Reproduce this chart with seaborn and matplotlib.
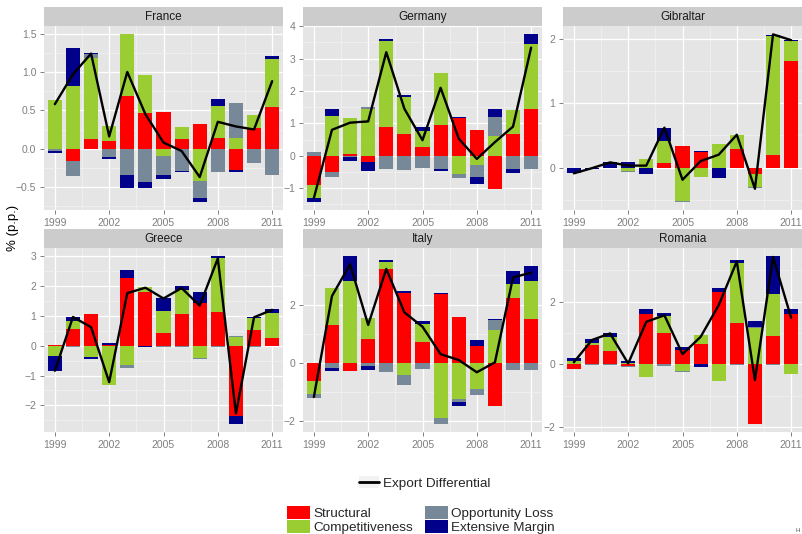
import numpy as np
import pandas as pd
import matplotlib
matplotlib.use("Agg")
import matplotlib.pyplot as plt
import seaborn as sns
from matplotlib.lines import Line2D
from matplotlib.patches import Patch
from matplotlib.ticker import MultipleLocator

# ---------------------------------------------------------------------------
# Data: decomposition of the export differential (percentage points)
# ---------------------------------------------------------------------------
years = list(range(1999, 2012))
countries = ["France", "Germany", "Gibraltar", "Greece", "Italy", "Romania"]
components = ["Structural", "Competitiveness", "Opportunity Loss", "Extensive Margin"]

france_structural = [-0.01, -0.16, 0.12, 0.10, 0.69, 0.47, 0.48, 0.12, 0.32, 0.14, -0.28, 0.27, 0.54]
france_competitiveness = [0.63, 0.82, 1.06, 0.19, 0.80, 0.49, -0.10, 0.16, -0.42, 0.41, 0.14, 0.17, 0.63]
france_opportunity = [-0.025, -0.19, 0.05, -0.11, -0.34, -0.44, -0.24, -0.29, -0.22, -0.30, 0.46, -0.18, -0.34]
france_extensive = [-0.015, 0.49, 0.02, -0.02, -0.17, -0.07, -0.06, -0.02, -0.05, 0.10, -0.03, -0.01, 0.04]
france_export = [0.58, 0.97, 1.24, 0.16, 1.00, 0.45, 0.08, -0.03, -0.37, 0.35, 0.29, 0.25, 0.88]

germany_structural = [-0.92, -0.50, 0.05, -0.20, 0.90, 0.66, 0.27, 0.94, 1.15, 0.79, -1.02, 0.66, 1.45]
germany_competitiveness = [-0.38, 1.24, 1.10, 1.43, 2.66, 1.14, 0.49, 1.61, -0.56, -0.28, 0.60, 0.76, 1.99]
germany_opportunity = [0.10, -0.15, -0.03, 0.09, -0.41, -0.44, -0.38, -0.40, -0.12, -0.37, 0.59, -0.41, -0.40]
germany_extensive = [-0.12, 0.21, -0.13, -0.27, 0.05, 0.08, 0.12, -0.06, 0.06, -0.24, 0.24, -0.11, 0.31]
germany_export = [-1.31, 0.80, 1.02, 1.06, 3.20, 1.45, 0.48, 2.10, 0.53, -0.10, 0.42, 0.90, 3.34]

gibraltar_structural = [0.00, 0.00, 0.00, 0.00, 0.00, 0.07, 0.33, 0.24, 0.00, 0.29, -0.10, 0.20, 1.65]
gibraltar_competitiveness = [0.00, 0.00, 0.00, -0.06, 0.13, 0.35, -0.52, -0.15, 0.37, 0.21, -0.21, 1.85, 0.31]
gibraltar_opportunity = [0.00, 0.00, 0.00, -0.01, 0.00, -0.01, -0.01, 0.00, 0.00, 0.01, -0.005, -0.01, -0.01]
gibraltar_extensive = [-0.09, -0.02, 0.08, 0.09, -0.10, 0.20, 0.01, 0.01, -0.17, -0.01, -0.01, 0.01, 0.02]
gibraltar_export = [-0.09, -0.01, 0.08, 0.03, 0.03, 0.62, -0.19, 0.10, 0.20, 0.51, -0.33, 2.07, 1.98]

greece_structural = [0.02, 0.57, 1.07, 0.03, 2.28, 1.80, 0.44, 1.07, 1.42, 1.13, -2.35, 0.54, 0.27]
greece_competitiveness = [-0.33, 0.27, -0.39, -1.30, -0.66, 0.18, 0.72, 0.80, -0.42, 1.79, 0.28, 0.39, 0.81]
greece_opportunity = [0.00, -0.03, 0.00, -0.02, -0.09, -0.02, -0.03, -0.03, -0.03, -0.06, 0.06, -0.03, 0.02]
greece_extensive = [-0.53, 0.13, -0.06, 0.07, 0.24, -0.03, 0.44, 0.12, 0.38, 0.07, -0.26, 0.04, 0.13]
greece_export = [-0.84, 0.96, 0.62, -1.22, 1.76, 1.94, 1.58, 1.93, 1.34, 2.92, -2.27, 0.95, 1.20]

italy_structural = [-0.63, 1.29, -0.27, 0.82, 3.23, 2.38, 0.72, 2.35, 1.56, 0.58, -1.48, 2.24, 1.49]
italy_competitiveness = [-0.45, 1.26, 2.79, 0.72, 0.22, -0.41, 0.61, -1.89, -1.22, -0.88, 1.13, 0.47, 1.32]
italy_opportunity = [-0.13, -0.19, 0.00, -0.10, -0.30, -0.33, -0.20, -0.19, -0.13, -0.22, 0.34, -0.23, -0.23]
italy_extensive = [0.00, -0.07, 0.86, -0.14, 0.07, 0.07, 0.10, 0.03, -0.13, 0.21, 0.03, 0.44, 0.51]
italy_export = [-1.17, 2.29, 3.38, 1.30, 3.22, 1.73, 1.24, 0.30, 0.10, -0.32, 0.02, 2.93, 3.09]

romania_structural = [-0.16, 0.63, 0.42, -0.06, 1.60, 1.01, 0.47, 0.66, 2.30, 1.33, -1.89, 0.92, 1.61]
romania_competitiveness = [0.12, 0.06, 0.47, 0.05, -0.39, 0.54, -0.20, 0.29, -0.52, 1.90, 1.15, 1.32, -0.29]
romania_opportunity = [0.00, -0.02, -0.02, -0.02, -0.02, -0.06, -0.04, 0.00, -0.02, -0.02, 0.04, -0.02, -0.02]
romania_extensive = [0.10, 0.13, 0.12, 0.07, 0.17, 0.09, 0.10, -0.08, 0.13, 0.09, 0.21, 1.21, 0.16]
romania_export = [0.07, 0.78, 0.99, 0.03, 1.36, 1.57, 0.33, 0.88, 1.89, 3.29, -0.50, 3.43, 1.49]

component_series = {
    "France": [france_structural, france_competitiveness, france_opportunity, france_extensive],
    "Germany": [germany_structural, germany_competitiveness, germany_opportunity, germany_extensive],
    "Gibraltar": [gibraltar_structural, gibraltar_competitiveness, gibraltar_opportunity, gibraltar_extensive],
    "Greece": [greece_structural, greece_competitiveness, greece_opportunity, greece_extensive],
    "Italy": [italy_structural, italy_competitiveness, italy_opportunity, italy_extensive],
    "Romania": [romania_structural, romania_competitiveness, romania_opportunity, romania_extensive],
}
export_series = {
    "France": france_export, "Germany": germany_export, "Gibraltar": gibraltar_export,
    "Greece": greece_export, "Italy": italy_export, "Romania": romania_export,
}

bars_df = pd.DataFrame(
    [(c, y, comp, v)
     for c in countries
     for comp, series in zip(components, component_series[c])
     for y, v in zip(years, series)],
    columns=["country", "year", "component", "value"],
)
line_df = pd.DataFrame(
    [(c, y, v) for c in countries for y, v in zip(years, export_series[c])],
    columns=["country", "year", "value"],
)

# ---------------------------------------------------------------------------
# Styling
# ---------------------------------------------------------------------------
sns.set_theme(style="darkgrid")
plt.rcParams["font.family"] = ["Liberation Sans", "DejaVu Sans"]
plt.rcParams["axes.unicode_minus"] = True

palette = {
    "Structural": "#FF0000",
    "Competitiveness": "#9ACD32",
    "Opportunity Loss": "#778899",
    "Extensive Margin": "#00008B",
}
y_steps = {"France": 0.5, "Germany": 1, "Gibraltar": 1, "Greece": 1, "Italy": 2, "Romania": 2}

W, H = 803, 534
fig = plt.figure(figsize=(W / 100, H / 100), dpi=100)
fig.patch.set_facecolor("white")


def px_axes(x0, y0, x1, y1):
    return fig.add_axes([x0 / W, 1 - y1 / H, (x1 - x0) / W, (y1 - y0) / H])


col_bounds = [(44, 283), (303, 542), (563, 802)]
row_bounds = [((7, 26), (26, 210)), ((229, 248), (248, 432))]
bar_width = 0.78

for i, country in enumerate(countries):
    r, c = divmod(i, 3)
    (sy0, sy1), (py0, py1) = row_bounds[r]
    x0, x1 = col_bounds[c]

    # facet strip
    sa = px_axes(x0, sy0, x1, sy1)
    sa.set_facecolor("#CCCCCC")
    sa.set_xticks([])
    sa.set_yticks([])
    sa.grid(False)
    for s in sa.spines.values():
        s.set_visible(False)
    sa.text(0.5, 0.45, country, ha="center", va="center", fontsize=8.5, color="#1A1A1A",
            transform=sa.transAxes)

    ax = px_axes(x0, py0, x1, py1)
    ax.set_facecolor("#E5E5E5")
    for s in ax.spines.values():
        s.set_visible(False)

    # stacked bars, positive and negative parts stacked separately
    sub = (bars_df[bars_df.country == country]
           .pivot(index="year", columns="component", values="value")[components])
    pos_base = np.zeros(len(sub))
    neg_base = np.zeros(len(sub))
    for comp in components:
        v = sub[comp].to_numpy()
        p = np.where(v > 0, v, 0.0)
        n = np.where(v < 0, v, 0.0)
        ax.bar(sub.index, p, bottom=pos_base, width=bar_width, color=palette[comp],
               linewidth=0, zorder=2)
        ax.bar(sub.index, n, bottom=neg_base, width=bar_width, color=palette[comp],
               linewidth=0, zorder=2)
        pos_base += p
        neg_base += n

    ldat = line_df[line_df.country == country]
    sns.lineplot(data=ldat, x="year", y="value", color="black", linewidth=1.7,
                 ax=ax, zorder=3)

    lo = min(neg_base.min(), ldat.value.min())
    hi = max(pos_base.max(), ldat.value.max())
    pad = (hi - lo) * 0.05
    ax.set_ylim(lo - pad, hi + pad)
    ax.set_xlim(1998.4, 2011.6)

    ax.set_xticks([1999, 2002, 2005, 2008, 2011])
    ax.set_xticks([2000.5, 2003.5, 2006.5, 2009.5], minor=True)
    step = y_steps[country]
    ax.yaxis.set_major_locator(MultipleLocator(step))
    ax.yaxis.set_minor_locator(MultipleLocator(step / 2))

    ax.grid(which="major", color="white", linewidth=0.9)
    ax.grid(which="minor", color="#F2F2F2", linewidth=0.5)
    ax.set_axisbelow(True)
    ax.tick_params(which="major", length=3, width=0.7, color="#7F7F7F",
                   labelcolor="#7F7F7F", labelsize=7.5, pad=2.5,
                   bottom=True, left=True)
    ax.tick_params(which="minor", length=0)
    ax.set_xlabel("")
    ax.set_ylabel("")
    if ax.get_legend() is not None:
        ax.get_legend().remove()

fig.text(13 / W, 1 - 228 / H, "% (p.p.)", rotation=90, ha="center", va="center",
         fontsize=9.5, color="black")

# legends
line_key = (Patch(facecolor="#F2F2F2", edgecolor="none"),
            Line2D([], [], color="black", linewidth=2))
fig.legend([line_key], ["Export Differential"], loc="center",
           bbox_to_anchor=(425 / W, 1 - 483 / H), frameon=False, fontsize=9.7,
           handlelength=1.5, handleheight=1.0, handletextpad=0.3,
           borderpad=0, borderaxespad=0)

fill_keys = [Patch(facecolor=palette[c], edgecolor="none") for c in components]
fig.legend(fill_keys, components, ncol=2, loc="upper center",
           bbox_to_anchor=(421 / W, 1 - 506 / H), frameon=False, fontsize=9.7,
           handlelength=1.7, handleheight=1.08, handletextpad=0.25,
           labelspacing=0.0, columnspacing=0.9, borderpad=0, borderaxespad=0)

fig.text(798 / W, 1 - 531 / H, "H", ha="center", va="center", fontsize=4.5, color="#555555")

fig.savefig("out.png", dpi=100, facecolor="white")
